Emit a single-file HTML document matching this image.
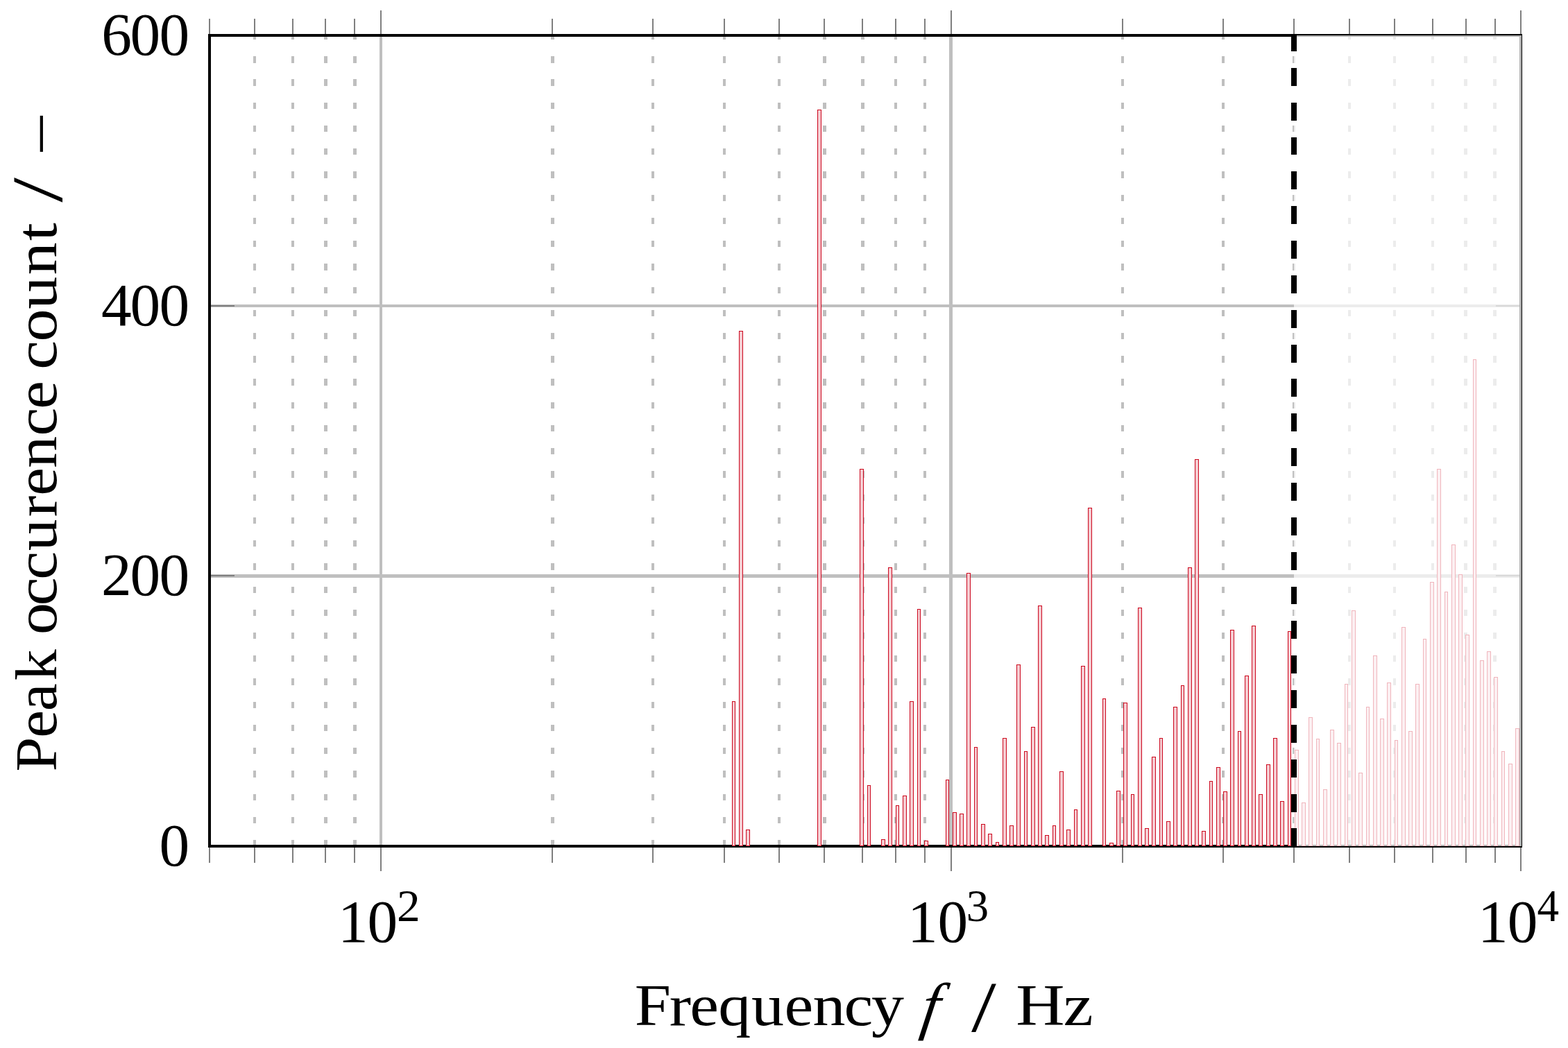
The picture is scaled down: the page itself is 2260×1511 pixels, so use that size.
<!DOCTYPE html>
<html lang="en"><head><meta charset="utf-8">
<style>html,body{margin:0;padding:0;background:#fff}svg{display:block}text{font-family:"Liberation Serif","DejaVu Serif",serif;fill:#000}</style></head><body>
<svg width="2260" height="1511" viewBox="0 0 2260 1511">
<rect width="2260" height="1511" fill="#fff"/>
<g fill="#bfbfbf">
<path d="M365 1211h4v9h-4zM365 1178h4v9h-4zM365 1145h4v9h-4zM365 1111h4v10h-4zM365 1078h4v9h-4zM365 1045h4v9h-4zM365 1012h4v9h-4zM365 978h4v10h-4zM365 945h4v9h-4zM365 912h4v9h-4zM365 879h4v9h-4zM365 846h4v9h-4zM365 812h4v10h-4zM365 779h4v9h-4zM365 746h4v9h-4zM365 713h4v9h-4zM365 679h4v10h-4zM365 646h4v9h-4zM365 613h4v9h-4zM365 580h4v9h-4zM365 546h4v10h-4zM365 513h4v10h-4zM365 480h4v9h-4zM365 447h4v9h-4zM365 414h4v9h-4zM365 380h4v10h-4zM365 347h4v9h-4zM365 314h4v9h-4zM365 281h4v9h-4zM365 247h4v10h-4zM365 214h4v9h-4zM365 181h4v9h-4zM365 148h4v9h-4zM365 114h4v10h-4zM365 81h4v10h-4zM365 51h4v6h-4z"/>
<path d="M420 1211h4v9h-4zM420 1178h4v9h-4zM420 1145h4v9h-4zM420 1111h4v10h-4zM420 1078h4v9h-4zM420 1045h4v9h-4zM420 1012h4v9h-4zM420 978h4v10h-4zM420 945h4v9h-4zM420 912h4v9h-4zM420 879h4v9h-4zM420 846h4v9h-4zM420 812h4v10h-4zM420 779h4v9h-4zM420 746h4v9h-4zM420 713h4v9h-4zM420 679h4v10h-4zM420 646h4v9h-4zM420 613h4v9h-4zM420 580h4v9h-4zM420 546h4v10h-4zM420 513h4v10h-4zM420 480h4v9h-4zM420 447h4v9h-4zM420 414h4v9h-4zM420 380h4v10h-4zM420 347h4v9h-4zM420 314h4v9h-4zM420 281h4v9h-4zM420 247h4v10h-4zM420 214h4v9h-4zM420 181h4v9h-4zM420 148h4v9h-4zM420 114h4v10h-4zM420 81h4v10h-4zM420 51h4v6h-4z"/>
<path d="M467 1211h5v9h-5zM467 1178h5v9h-5zM467 1145h5v9h-5zM467 1111h5v10h-5zM467 1078h5v9h-5zM467 1045h5v9h-5zM467 1012h5v9h-5zM467 978h5v10h-5zM467 945h5v9h-5zM467 912h5v9h-5zM467 879h5v9h-5zM467 846h5v9h-5zM467 812h5v10h-5zM467 779h5v9h-5zM467 746h5v9h-5zM467 713h5v9h-5zM467 679h5v10h-5zM467 646h5v9h-5zM467 613h5v9h-5zM467 580h5v9h-5zM467 546h5v10h-5zM467 513h5v10h-5zM467 480h5v9h-5zM467 447h5v9h-5zM467 414h5v9h-5zM467 380h5v10h-5zM467 347h5v9h-5zM467 314h5v9h-5zM467 281h5v9h-5zM467 247h5v10h-5zM467 214h5v9h-5zM467 181h5v9h-5zM467 148h5v9h-5zM467 114h5v10h-5zM467 81h5v10h-5zM467 51h5v6h-5z"/>
<path d="M509 1211h5v9h-5zM509 1178h5v9h-5zM509 1145h5v9h-5zM509 1111h5v10h-5zM509 1078h5v9h-5zM509 1045h5v9h-5zM509 1012h5v9h-5zM509 978h5v10h-5zM509 945h5v9h-5zM509 912h5v9h-5zM509 879h5v9h-5zM509 846h5v9h-5zM509 812h5v10h-5zM509 779h5v9h-5zM509 746h5v9h-5zM509 713h5v9h-5zM509 679h5v10h-5zM509 646h5v9h-5zM509 613h5v9h-5zM509 580h5v9h-5zM509 546h5v10h-5zM509 513h5v10h-5zM509 480h5v9h-5zM509 447h5v9h-5zM509 414h5v9h-5zM509 380h5v10h-5zM509 347h5v9h-5zM509 314h5v9h-5zM509 281h5v9h-5zM509 247h5v10h-5zM509 214h5v9h-5zM509 181h5v9h-5zM509 148h5v9h-5zM509 114h5v10h-5zM509 81h5v10h-5zM509 51h5v6h-5z"/>
<path d="M794 1211h5v9h-5zM794 1178h5v9h-5zM794 1145h5v9h-5zM794 1111h5v10h-5zM794 1078h5v9h-5zM794 1045h5v9h-5zM794 1012h5v9h-5zM794 978h5v10h-5zM794 945h5v9h-5zM794 912h5v9h-5zM794 879h5v9h-5zM794 846h5v9h-5zM794 812h5v10h-5zM794 779h5v9h-5zM794 746h5v9h-5zM794 713h5v9h-5zM794 679h5v10h-5zM794 646h5v9h-5zM794 613h5v9h-5zM794 580h5v9h-5zM794 546h5v10h-5zM794 513h5v10h-5zM794 480h5v9h-5zM794 447h5v9h-5zM794 414h5v9h-5zM794 380h5v10h-5zM794 347h5v9h-5zM794 314h5v9h-5zM794 281h5v9h-5zM794 247h5v10h-5zM794 214h5v9h-5zM794 181h5v9h-5zM794 148h5v9h-5zM794 114h5v10h-5zM794 81h5v10h-5zM794 51h5v6h-5z"/>
<path d="M939 1211h4v9h-4zM939 1178h4v9h-4zM939 1145h4v9h-4zM939 1111h4v10h-4zM939 1078h4v9h-4zM939 1045h4v9h-4zM939 1012h4v9h-4zM939 978h4v10h-4zM939 945h4v9h-4zM939 912h4v9h-4zM939 879h4v9h-4zM939 846h4v9h-4zM939 812h4v10h-4zM939 779h4v9h-4zM939 746h4v9h-4zM939 713h4v9h-4zM939 679h4v10h-4zM939 646h4v9h-4zM939 613h4v9h-4zM939 580h4v9h-4zM939 546h4v10h-4zM939 513h4v10h-4zM939 480h4v9h-4zM939 447h4v9h-4zM939 414h4v9h-4zM939 380h4v10h-4zM939 347h4v9h-4zM939 314h4v9h-4zM939 281h4v9h-4zM939 247h4v10h-4zM939 214h4v9h-4zM939 181h4v9h-4zM939 148h4v9h-4zM939 114h4v10h-4zM939 81h4v10h-4zM939 51h4v6h-4z"/>
<path d="M1042 1211h4v9h-4zM1042 1178h4v9h-4zM1042 1145h4v9h-4zM1042 1111h4v10h-4zM1042 1078h4v9h-4zM1042 1045h4v9h-4zM1042 1012h4v9h-4zM1042 978h4v10h-4zM1042 945h4v9h-4zM1042 912h4v9h-4zM1042 879h4v9h-4zM1042 846h4v9h-4zM1042 812h4v10h-4zM1042 779h4v9h-4zM1042 746h4v9h-4zM1042 713h4v9h-4zM1042 679h4v10h-4zM1042 646h4v9h-4zM1042 613h4v9h-4zM1042 580h4v9h-4zM1042 546h4v10h-4zM1042 513h4v10h-4zM1042 480h4v9h-4zM1042 447h4v9h-4zM1042 414h4v9h-4zM1042 380h4v10h-4zM1042 347h4v9h-4zM1042 314h4v9h-4zM1042 281h4v9h-4zM1042 247h4v10h-4zM1042 214h4v9h-4zM1042 181h4v9h-4zM1042 148h4v9h-4zM1042 114h4v10h-4zM1042 81h4v10h-4zM1042 51h4v6h-4z"/>
<path d="M1121 1211h4v9h-4zM1121 1178h4v9h-4zM1121 1145h4v9h-4zM1121 1111h4v10h-4zM1121 1078h4v9h-4zM1121 1045h4v9h-4zM1121 1012h4v9h-4zM1121 978h4v10h-4zM1121 945h4v9h-4zM1121 912h4v9h-4zM1121 879h4v9h-4zM1121 846h4v9h-4zM1121 812h4v10h-4zM1121 779h4v9h-4zM1121 746h4v9h-4zM1121 713h4v9h-4zM1121 679h4v10h-4zM1121 646h4v9h-4zM1121 613h4v9h-4zM1121 580h4v9h-4zM1121 546h4v10h-4zM1121 513h4v10h-4zM1121 480h4v9h-4zM1121 447h4v9h-4zM1121 414h4v9h-4zM1121 380h4v10h-4zM1121 347h4v9h-4zM1121 314h4v9h-4zM1121 281h4v9h-4zM1121 247h4v10h-4zM1121 214h4v9h-4zM1121 181h4v9h-4zM1121 148h4v9h-4zM1121 114h4v10h-4zM1121 81h4v10h-4zM1121 51h4v6h-4z"/>
<path d="M1186 1211h5v9h-5zM1186 1178h5v9h-5zM1186 1145h5v9h-5zM1186 1111h5v10h-5zM1186 1078h5v9h-5zM1186 1045h5v9h-5zM1186 1012h5v9h-5zM1186 978h5v10h-5zM1186 945h5v9h-5zM1186 912h5v9h-5zM1186 879h5v9h-5zM1186 846h5v9h-5zM1186 812h5v10h-5zM1186 779h5v9h-5zM1186 746h5v9h-5zM1186 713h5v9h-5zM1186 679h5v10h-5zM1186 646h5v9h-5zM1186 613h5v9h-5zM1186 580h5v9h-5zM1186 546h5v10h-5zM1186 513h5v10h-5zM1186 480h5v9h-5zM1186 447h5v9h-5zM1186 414h5v9h-5zM1186 380h5v10h-5zM1186 347h5v9h-5zM1186 314h5v9h-5zM1186 281h5v9h-5zM1186 247h5v10h-5zM1186 214h5v9h-5zM1186 181h5v9h-5zM1186 148h5v9h-5zM1186 114h5v10h-5zM1186 81h5v10h-5zM1186 51h5v6h-5z"/>
<path d="M1241 1211h5v9h-5zM1241 1178h5v9h-5zM1241 1145h5v9h-5zM1241 1111h5v10h-5zM1241 1078h5v9h-5zM1241 1045h5v9h-5zM1241 1012h5v9h-5zM1241 978h5v10h-5zM1241 945h5v9h-5zM1241 912h5v9h-5zM1241 879h5v9h-5zM1241 846h5v9h-5zM1241 812h5v10h-5zM1241 779h5v9h-5zM1241 746h5v9h-5zM1241 713h5v9h-5zM1241 679h5v10h-5zM1241 646h5v9h-5zM1241 613h5v9h-5zM1241 580h5v9h-5zM1241 546h5v10h-5zM1241 513h5v10h-5zM1241 480h5v9h-5zM1241 447h5v9h-5zM1241 414h5v9h-5zM1241 380h5v10h-5zM1241 347h5v9h-5zM1241 314h5v9h-5zM1241 281h5v9h-5zM1241 247h5v10h-5zM1241 214h5v9h-5zM1241 181h5v9h-5zM1241 148h5v9h-5zM1241 114h5v10h-5zM1241 81h5v10h-5zM1241 51h5v6h-5z"/>
<path d="M1289 1211h4v9h-4zM1289 1178h4v9h-4zM1289 1145h4v9h-4zM1289 1111h4v10h-4zM1289 1078h4v9h-4zM1289 1045h4v9h-4zM1289 1012h4v9h-4zM1289 978h4v10h-4zM1289 945h4v9h-4zM1289 912h4v9h-4zM1289 879h4v9h-4zM1289 846h4v9h-4zM1289 812h4v10h-4zM1289 779h4v9h-4zM1289 746h4v9h-4zM1289 713h4v9h-4zM1289 679h4v10h-4zM1289 646h4v9h-4zM1289 613h4v9h-4zM1289 580h4v9h-4zM1289 546h4v10h-4zM1289 513h4v10h-4zM1289 480h4v9h-4zM1289 447h4v9h-4zM1289 414h4v9h-4zM1289 380h4v10h-4zM1289 347h4v9h-4zM1289 314h4v9h-4zM1289 281h4v9h-4zM1289 247h4v10h-4zM1289 214h4v9h-4zM1289 181h4v9h-4zM1289 148h4v9h-4zM1289 114h4v10h-4zM1289 81h4v10h-4zM1289 51h4v6h-4z"/>
<path d="M1331 1211h4v9h-4zM1331 1178h4v9h-4zM1331 1145h4v9h-4zM1331 1111h4v10h-4zM1331 1078h4v9h-4zM1331 1045h4v9h-4zM1331 1012h4v9h-4zM1331 978h4v10h-4zM1331 945h4v9h-4zM1331 912h4v9h-4zM1331 879h4v9h-4zM1331 846h4v9h-4zM1331 812h4v10h-4zM1331 779h4v9h-4zM1331 746h4v9h-4zM1331 713h4v9h-4zM1331 679h4v10h-4zM1331 646h4v9h-4zM1331 613h4v9h-4zM1331 580h4v9h-4zM1331 546h4v10h-4zM1331 513h4v10h-4zM1331 480h4v9h-4zM1331 447h4v9h-4zM1331 414h4v9h-4zM1331 380h4v10h-4zM1331 347h4v9h-4zM1331 314h4v9h-4zM1331 281h4v9h-4zM1331 247h4v10h-4zM1331 214h4v9h-4zM1331 181h4v9h-4zM1331 148h4v9h-4zM1331 114h4v10h-4zM1331 81h4v10h-4zM1331 51h4v6h-4z"/>
<path d="M1616 1211h4v9h-4zM1616 1178h4v9h-4zM1616 1145h4v9h-4zM1616 1111h4v10h-4zM1616 1078h4v9h-4zM1616 1045h4v9h-4zM1616 1012h4v9h-4zM1616 978h4v10h-4zM1616 945h4v9h-4zM1616 912h4v9h-4zM1616 879h4v9h-4zM1616 846h4v9h-4zM1616 812h4v10h-4zM1616 779h4v9h-4zM1616 746h4v9h-4zM1616 713h4v9h-4zM1616 679h4v10h-4zM1616 646h4v9h-4zM1616 613h4v9h-4zM1616 580h4v9h-4zM1616 546h4v10h-4zM1616 513h4v10h-4zM1616 480h4v9h-4zM1616 447h4v9h-4zM1616 414h4v9h-4zM1616 380h4v10h-4zM1616 347h4v9h-4zM1616 314h4v9h-4zM1616 281h4v9h-4zM1616 247h4v10h-4zM1616 214h4v9h-4zM1616 181h4v9h-4zM1616 148h4v9h-4zM1616 114h4v10h-4zM1616 81h4v10h-4zM1616 51h4v6h-4z"/>
<path d="M1761 1211h4v9h-4zM1761 1178h4v9h-4zM1761 1145h4v9h-4zM1761 1111h4v10h-4zM1761 1078h4v9h-4zM1761 1045h4v9h-4zM1761 1012h4v9h-4zM1761 978h4v10h-4zM1761 945h4v9h-4zM1761 912h4v9h-4zM1761 879h4v9h-4zM1761 846h4v9h-4zM1761 812h4v10h-4zM1761 779h4v9h-4zM1761 746h4v9h-4zM1761 713h4v9h-4zM1761 679h4v10h-4zM1761 646h4v9h-4zM1761 613h4v9h-4zM1761 580h4v9h-4zM1761 546h4v10h-4zM1761 513h4v10h-4zM1761 480h4v9h-4zM1761 447h4v9h-4zM1761 414h4v9h-4zM1761 380h4v10h-4zM1761 347h4v9h-4zM1761 314h4v9h-4zM1761 281h4v9h-4zM1761 247h4v10h-4zM1761 214h4v9h-4zM1761 181h4v9h-4zM1761 148h4v9h-4zM1761 114h4v10h-4zM1761 81h4v10h-4zM1761 51h4v6h-4z"/>
<path d="M1863 1211h4v9h-4zM1863 1178h4v9h-4zM1863 1145h4v9h-4zM1863 1111h4v10h-4zM1863 1078h4v9h-4zM1863 1045h4v9h-4zM1863 1012h4v9h-4zM1863 978h4v10h-4zM1863 945h4v9h-4zM1863 912h4v9h-4zM1863 879h4v9h-4zM1863 846h4v9h-4zM1863 812h4v10h-4zM1863 779h4v9h-4zM1863 746h4v9h-4zM1863 713h4v9h-4zM1863 679h4v10h-4zM1863 646h4v9h-4zM1863 613h4v9h-4zM1863 580h4v9h-4zM1863 546h4v10h-4zM1863 513h4v10h-4zM1863 480h4v9h-4zM1863 447h4v9h-4zM1863 414h4v9h-4zM1863 380h4v10h-4zM1863 347h4v9h-4zM1863 314h4v9h-4zM1863 281h4v9h-4zM1863 247h4v10h-4zM1863 214h4v9h-4zM1863 181h4v9h-4zM1863 148h4v9h-4zM1863 114h4v10h-4zM1863 81h4v10h-4zM1863 51h4v6h-4z"/>
<path d="M1943 1211h4v9h-4zM1943 1178h4v9h-4zM1943 1145h4v9h-4zM1943 1111h4v10h-4zM1943 1078h4v9h-4zM1943 1045h4v9h-4zM1943 1012h4v9h-4zM1943 978h4v10h-4zM1943 945h4v9h-4zM1943 912h4v9h-4zM1943 879h4v9h-4zM1943 846h4v9h-4zM1943 812h4v10h-4zM1943 779h4v9h-4zM1943 746h4v9h-4zM1943 713h4v9h-4zM1943 679h4v10h-4zM1943 646h4v9h-4zM1943 613h4v9h-4zM1943 580h4v9h-4zM1943 546h4v10h-4zM1943 513h4v10h-4zM1943 480h4v9h-4zM1943 447h4v9h-4zM1943 414h4v9h-4zM1943 380h4v10h-4zM1943 347h4v9h-4zM1943 314h4v9h-4zM1943 281h4v9h-4zM1943 247h4v10h-4zM1943 214h4v9h-4zM1943 181h4v9h-4zM1943 148h4v9h-4zM1943 114h4v10h-4zM1943 81h4v10h-4zM1943 51h4v6h-4z"/>
<path d="M2008 1211h4v9h-4zM2008 1178h4v9h-4zM2008 1145h4v9h-4zM2008 1111h4v10h-4zM2008 1078h4v9h-4zM2008 1045h4v9h-4zM2008 1012h4v9h-4zM2008 978h4v10h-4zM2008 945h4v9h-4zM2008 912h4v9h-4zM2008 879h4v9h-4zM2008 846h4v9h-4zM2008 812h4v10h-4zM2008 779h4v9h-4zM2008 746h4v9h-4zM2008 713h4v9h-4zM2008 679h4v10h-4zM2008 646h4v9h-4zM2008 613h4v9h-4zM2008 580h4v9h-4zM2008 546h4v10h-4zM2008 513h4v10h-4zM2008 480h4v9h-4zM2008 447h4v9h-4zM2008 414h4v9h-4zM2008 380h4v10h-4zM2008 347h4v9h-4zM2008 314h4v9h-4zM2008 281h4v9h-4zM2008 247h4v10h-4zM2008 214h4v9h-4zM2008 181h4v9h-4zM2008 148h4v9h-4zM2008 114h4v10h-4zM2008 81h4v10h-4zM2008 51h4v6h-4z"/>
<path d="M2063 1211h4v9h-4zM2063 1178h4v9h-4zM2063 1145h4v9h-4zM2063 1111h4v10h-4zM2063 1078h4v9h-4zM2063 1045h4v9h-4zM2063 1012h4v9h-4zM2063 978h4v10h-4zM2063 945h4v9h-4zM2063 912h4v9h-4zM2063 879h4v9h-4zM2063 846h4v9h-4zM2063 812h4v10h-4zM2063 779h4v9h-4zM2063 746h4v9h-4zM2063 713h4v9h-4zM2063 679h4v10h-4zM2063 646h4v9h-4zM2063 613h4v9h-4zM2063 580h4v9h-4zM2063 546h4v10h-4zM2063 513h4v10h-4zM2063 480h4v9h-4zM2063 447h4v9h-4zM2063 414h4v9h-4zM2063 380h4v10h-4zM2063 347h4v9h-4zM2063 314h4v9h-4zM2063 281h4v9h-4zM2063 247h4v10h-4zM2063 214h4v9h-4zM2063 181h4v9h-4zM2063 148h4v9h-4zM2063 114h4v10h-4zM2063 81h4v10h-4zM2063 51h4v6h-4z"/>
<path d="M2110 1211h5v9h-5zM2110 1178h5v9h-5zM2110 1145h5v9h-5zM2110 1111h5v10h-5zM2110 1078h5v9h-5zM2110 1045h5v9h-5zM2110 1012h5v9h-5zM2110 978h5v10h-5zM2110 945h5v9h-5zM2110 912h5v9h-5zM2110 879h5v9h-5zM2110 846h5v9h-5zM2110 812h5v10h-5zM2110 779h5v9h-5zM2110 746h5v9h-5zM2110 713h5v9h-5zM2110 679h5v10h-5zM2110 646h5v9h-5zM2110 613h5v9h-5zM2110 580h5v9h-5zM2110 546h5v10h-5zM2110 513h5v10h-5zM2110 480h5v9h-5zM2110 447h5v9h-5zM2110 414h5v9h-5zM2110 380h5v10h-5zM2110 347h5v9h-5zM2110 314h5v9h-5zM2110 281h5v9h-5zM2110 247h5v10h-5zM2110 214h5v9h-5zM2110 181h5v9h-5zM2110 148h5v9h-5zM2110 114h5v10h-5zM2110 81h5v10h-5zM2110 51h5v6h-5z"/>
<path d="M2152 1211h5v9h-5zM2152 1178h5v9h-5zM2152 1145h5v9h-5zM2152 1111h5v10h-5zM2152 1078h5v9h-5zM2152 1045h5v9h-5zM2152 1012h5v9h-5zM2152 978h5v10h-5zM2152 945h5v9h-5zM2152 912h5v9h-5zM2152 879h5v9h-5zM2152 846h5v9h-5zM2152 812h5v10h-5zM2152 779h5v9h-5zM2152 746h5v9h-5zM2152 713h5v9h-5zM2152 679h5v10h-5zM2152 646h5v9h-5zM2152 613h5v9h-5zM2152 580h5v9h-5zM2152 546h5v10h-5zM2152 513h5v10h-5zM2152 480h5v9h-5zM2152 447h5v9h-5zM2152 414h5v9h-5zM2152 380h5v10h-5zM2152 347h5v9h-5zM2152 314h5v9h-5zM2152 281h5v9h-5zM2152 247h5v10h-5zM2152 214h5v9h-5zM2152 181h5v9h-5zM2152 148h5v9h-5zM2152 114h5v10h-5zM2152 81h5v10h-5zM2152 51h5v6h-5z"/>
<rect x="547" y="51" width="4" height="1169"/>
<rect x="1368" y="51" width="5" height="1169"/>
<rect x="302" y="439" width="1890" height="4"/>
<rect x="302" y="828" width="1890" height="5"/>
</g>
<path d="M301 27h2v24h-2zM301 1220h2v24h-2zM366 27h2v24h-2zM366 1220h2v24h-2zM421 27h2v24h-2zM421 1220h2v24h-2zM468 27h2v24h-2zM468 1220h2v24h-2zM510 27h2v24h-2zM510 1220h2v24h-2zM795 27h2v24h-2zM795 1220h2v24h-2zM940 27h2v24h-2zM940 1220h2v24h-2zM1043 27h2v24h-2zM1043 1220h2v24h-2zM1122 27h2v24h-2zM1122 1220h2v24h-2zM1187 27h2v24h-2zM1187 1220h2v24h-2zM1242 27h2v24h-2zM1242 1220h2v24h-2zM1290 27h2v24h-2zM1290 1220h2v24h-2zM1332 27h2v24h-2zM1332 1220h2v24h-2zM1617 27h2v24h-2zM1617 1220h2v24h-2zM1762 27h2v24h-2zM1762 1220h2v24h-2zM1864 27h2v24h-2zM1864 1220h2v24h-2zM1944 27h2v24h-2zM1944 1220h2v24h-2zM2009 27h2v24h-2zM2009 1220h2v24h-2zM2064 27h2v24h-2zM2064 1220h2v24h-2zM2112 27h2v24h-2zM2112 1220h2v24h-2zM2154 27h2v24h-2zM2154 1220h2v24h-2zM548 15h2v36h-2zM548 1220h2v36h-2zM1370 15h2v36h-2zM1370 1220h2v36h-2zM2191 15h2v36h-2zM2191 1220h2v36h-2zM302 829h36v2h-36zM2156 829h36v2h-36zM302 440h36v2h-36zM2156 440h36v2h-36z" fill="#7f7f7f"/>
<rect x="302.0" y="51.0" width="1890.0" height="1169.0" fill="none" stroke="#000" stroke-width="4"/>
<path d="M1055 1011H1060V1220H1055zM1065 477H1071V1220H1065zM1075 1196H1081V1220H1075zM1178 158H1184V1220H1178zM1239 676H1245V1220H1239zM1250 1132H1255V1220H1250zM1270 1210H1276V1220H1270zM1280 818H1286V1220H1280zM1291 1161H1296V1220H1291zM1301 1147H1307V1220H1301zM1311 1011H1317V1220H1311zM1322 878H1327V1220H1322zM1332 1212H1338V1220H1332zM1363 1124H1368V1220H1363zM1373 1171H1379V1220H1373zM1383 1173H1389V1220H1383zM1393 826H1399V1220H1393zM1404 1077H1409V1220H1404zM1414 1188H1420V1220H1414zM1424 1202H1430V1220H1424zM1435 1214H1440V1220H1435zM1445 1064H1451V1220H1445zM1455 1190H1461V1220H1455zM1465 958H1471V1220H1465zM1476 1083H1481V1220H1476zM1486 1048H1492V1220H1486zM1496 873H1502V1220H1496zM1506 1204H1512V1220H1506zM1517 1190H1522V1220H1517zM1527 1112H1533V1220H1527zM1537 1196H1543V1220H1537zM1548 1167H1553V1220H1548zM1558 960H1564V1220H1558zM1568 732H1574V1220H1568zM1589 1007H1594V1220H1589zM1599 1215H1605V1220H1599zM1609 1140H1615V1220H1609zM1619 1013H1625V1220H1619zM1630 1145H1635V1220H1630zM1640 876H1646V1220H1640zM1650 1194H1656V1220H1650zM1660 1091H1666V1220H1660zM1671 1064H1676V1220H1671zM1681 1184H1687V1220H1681zM1691 1019H1697V1220H1691zM1702 988H1707V1220H1702zM1712 818H1718V1220H1712zM1722 662H1728V1220H1722zM1732 1198H1738V1220H1732zM1743 1126H1748V1220H1743zM1753 1106H1759V1220H1753zM1763 1141H1769V1220H1763zM1773 908H1779V1220H1773zM1784 1054H1789V1220H1784zM1794 974H1800V1220H1794zM1804 902H1810V1220H1804zM1814 1145H1820V1220H1814zM1825 1102H1831V1220H1825zM1835 1064H1841V1220H1835zM1845 1155H1851V1220H1845zM1856 910H1861V1220H1856zM1866 1081H1872V1220H1866zM1876 1157H1882V1220H1876zM1886 1034H1892V1220H1886zM1897 1065H1902V1220H1897zM1907 1138H1913V1220H1907zM1917 1052H1923V1220H1917zM1927 1071H1933V1220H1927zM1938 986H1943V1220H1938zM1948 880H1954V1220H1948zM1958 1114H1964V1220H1958zM1969 1019H1974V1220H1969zM1979 945H1985V1220H1979zM1989 1036H1995V1220H1989zM1999 984H2005V1220H1999zM2010 1067H2015V1220H2010zM2020 904H2026V1220H2020zM2030 1054H2036V1220H2030zM2040 986H2046V1220H2040zM2051 921H2056V1220H2051zM2061 839H2067V1220H2061zM2071 676H2077V1220H2071zM2082 853H2087V1220H2082zM2092 785H2098V1220H2092zM2102 828H2108V1220H2102zM2112 915H2118V1220H2112zM2123 518H2128V1220H2123zM2133 952H2139V1220H2133zM2143 939H2149V1220H2143zM2153 976H2159V1220H2153zM2164 1083H2169V1220H2164zM2174 1101H2180V1220H2174zM2184 1050H2190V1220H2184z" fill="#cc071e"/>
<path d="M1056 1012H1059V1219H1056zM1066 478H1070V1219H1066zM1076 1197H1080V1219H1076zM1179 159H1183V1219H1179zM1240 677H1244V1219H1240zM1251 1133H1254V1219H1251zM1271 1211H1275V1219H1271zM1281 819H1285V1219H1281zM1292 1162H1295V1219H1292zM1302 1148H1306V1219H1302zM1312 1012H1316V1219H1312zM1323 879H1326V1219H1323zM1333 1213H1337V1219H1333zM1364 1125H1367V1219H1364zM1374 1172H1378V1219H1374zM1384 1174H1388V1219H1384zM1394 827H1398V1219H1394zM1405 1078H1408V1219H1405zM1415 1189H1419V1219H1415zM1425 1203H1429V1219H1425zM1436 1215H1439V1219H1436zM1446 1065H1450V1219H1446zM1456 1191H1460V1219H1456zM1466 959H1470V1219H1466zM1477 1084H1480V1219H1477zM1487 1049H1491V1219H1487zM1497 874H1501V1219H1497zM1507 1205H1511V1219H1507zM1518 1191H1521V1219H1518zM1528 1113H1532V1219H1528zM1538 1197H1542V1219H1538zM1549 1168H1552V1219H1549zM1559 961H1563V1219H1559zM1569 733H1573V1219H1569zM1590 1008H1593V1219H1590zM1600 1216H1604V1219H1600zM1610 1141H1614V1219H1610zM1620 1014H1624V1219H1620zM1631 1146H1634V1219H1631zM1641 877H1645V1219H1641zM1651 1195H1655V1219H1651zM1661 1092H1665V1219H1661zM1672 1065H1675V1219H1672zM1682 1185H1686V1219H1682zM1692 1020H1696V1219H1692zM1703 989H1706V1219H1703zM1713 819H1717V1219H1713zM1723 663H1727V1219H1723zM1733 1199H1737V1219H1733zM1744 1127H1747V1219H1744zM1754 1107H1758V1219H1754zM1764 1142H1768V1219H1764zM1774 909H1778V1219H1774zM1785 1055H1788V1219H1785zM1795 975H1799V1219H1795zM1805 903H1809V1219H1805zM1815 1146H1819V1219H1815zM1826 1103H1830V1219H1826zM1836 1065H1840V1219H1836zM1846 1156H1850V1219H1846zM1857 911H1860V1219H1857zM1867 1082H1871V1219H1867zM1877 1158H1881V1219H1877zM1887 1035H1891V1219H1887zM1898 1066H1901V1219H1898zM1908 1139H1912V1219H1908zM1918 1053H1922V1219H1918zM1928 1072H1932V1219H1928zM1939 987H1942V1219H1939zM1949 881H1953V1219H1949zM1959 1115H1963V1219H1959zM1970 1020H1973V1219H1970zM1980 946H1984V1219H1980zM1990 1037H1994V1219H1990zM2000 985H2004V1219H2000zM2011 1068H2014V1219H2011zM2021 905H2025V1219H2021zM2031 1055H2035V1219H2031zM2041 987H2045V1219H2041zM2052 922H2055V1219H2052zM2062 840H2066V1219H2062zM2072 677H2076V1219H2072zM2083 854H2086V1219H2083zM2093 786H2097V1219H2093zM2103 829H2107V1219H2103zM2113 916H2117V1219H2113zM2124 519H2127V1219H2124zM2134 953H2138V1219H2134zM2144 940H2148V1219H2144zM2154 977H2158V1219H2154zM2165 1084H2168V1219H2165zM2175 1102H2179V1219H2175zM2185 1051H2189V1219H2185z" fill="#f5cdd2"/>
<rect x="1865" y="51" width="328" height="1169" fill="#fff" fill-opacity="0.7"/>
<path d="M1861 1194h8V1220h-8zM1861 1145h8V1171h-8zM1861 1095h8V1121h-8zM1861 1045h8V1071h-8zM1861 995h8V1021h-8zM1861 945h8V971h-8zM1861 895h8V921h-8zM1861 846h8V871h-8zM1861 796h8V822h-8zM1861 746h8V772h-8zM1861 696h8V722h-8zM1861 646h8V672h-8zM1861 596h8V622h-8zM1861 546h8V572h-8zM1861 497h8V523h-8zM1861 447h8V473h-8zM1861 397h8V423h-8zM1861 347h8V373h-8zM1861 297h8V323h-8zM1861 247h8V273h-8zM1861 198h8V223h-8zM1861 148h8V174h-8zM1861 98h8V124h-8zM1861 49h8V74h-8z" fill="#000"/>
<text transform="translate(0 79.3) scale(1.016 1)" x="143.84 184.63 225.96" y="0" font-size="86.0">600</text>
<text transform="translate(0 469.3) scale(1.016 1)" x="143.65 184.63 225.96" y="0" font-size="86.0">400</text>
<text transform="translate(0 857.8) scale(1.016 1)" x="143.76 184.63 225.96" y="0" font-size="86.0">200</text>
<text transform="translate(0 1248.3) scale(1.016 1)" x="225.96" y="0" font-size="86.0">0</text>
<text transform="translate(0 1358.0) scale(1.016 1)" x="479.34 521.24" y="0" font-size="86.0">10</text>
<text transform="translate(0 1328.1) scale(1.02 1)" x="560.82" y="0" font-size="66.0">2</text>
<text transform="translate(0 1358.0) scale(1.016 1)" x="1287.31 1330.29" y="0" font-size="86.0">10</text>
<text transform="translate(0 1328.1) scale(0.98 1)" x="1421.12" y="0" font-size="66.0">3</text>
<text transform="translate(0 1358.0) scale(1.016 1)" x="2096.47 2138.46" y="0" font-size="86.0">10</text>
<text transform="translate(0 1328.1) scale(0.957 1)" x="2315.09" y="0" font-size="66.0">4</text>
<text transform="translate(0 1478.0) scale(1.0998 1)" x="831.76 877.12 903.95 941.37 984.68 1027.83 1065.09 1106.04 1141.92" y="0" font-size="85.5">Frequency</text>
<text transform="translate(1324.9 1481.2) skewX(-8.5)" x="0" y="0" font-size="91.6" font-style="italic">f</text>
<text transform="translate(0 1486.5) scale(1.24 1)" x="1129.11" y="0" font-size="104.0">/</text>
<text transform="translate(0 1478.0) scale(1.1385 1)" x="1286.14 1346.07" y="0" font-size="85.5">Hz</text>
<text transform="translate(80.9 1200) rotate(-90) scale(1.0508 1)" x="83.24 129.73 166.36 208.06" y="0" font-size="85.5">Peak</text>
<text transform="translate(80.9 1200) rotate(-90) scale(1.0747 1)" x="265.26 303.97 339.05 377.47 423.09 451.63 488.75 531.81 567.85" y="0" font-size="85.5">occurence</text>
<text transform="translate(80.9 1200) rotate(-90) scale(1.1009 1)" x="606.01 642.75 685.20 729.97 774.55" y="0" font-size="85.5">count</text>
<text transform="translate(89.4 1200) rotate(-90) scale(1.24 1)" x="732.42" y="0" font-size="104.0">/</text>
<text transform="translate(88.1 1200) rotate(-90) scale(1.31 1)" x="744.58" y="0" font-size="85.5">−</text>
</svg></body></html>
